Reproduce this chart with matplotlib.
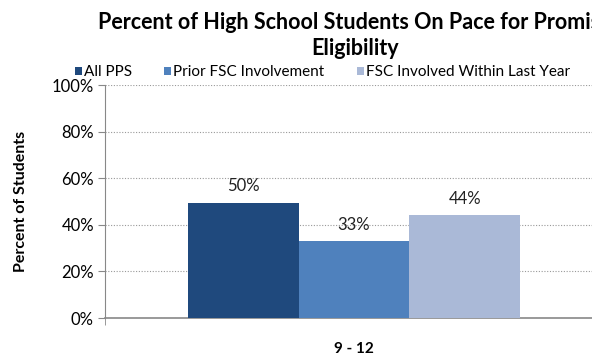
import matplotlib
matplotlib.use("Agg")
import matplotlib.pyplot as plt
from matplotlib.ticker import FixedLocator, PercentFormatter

# data
category = ["9 - 12"]
series = ["All PPS", "Prior FSC Involvement", "FSC Involved Within Last Year"]
values = [49.5, 33.0, 44.2]
value_labels = ["50%", "33%", "44%"]
colors = ["#1F497D", "#4F81BD", "#AAB9D7"]
yticks = [0, 20, 40, 60, 80, 100]

plt.rcParams["font.family"] = ["Lato", "DejaVu Sans"]

fig = plt.figure(figsize=(5.92, 3.56), dpi=100)
ax = fig.add_axes([0.1774, 0.1067, 0.8412, 0.6545])

width = 0.2225
offsets = [-width, 0, width]
for name, val, lab, col, off in zip(series, values, value_labels, colors, offsets):
    ax.bar(off, val, width=width, color=col, label=name, zorder=3)
    ax.annotate(lab, (off, val), xytext=(0, 6), textcoords="offset points",
                ha="center", va="bottom", fontsize=12, color="#222222")

ax.set_xlim(-0.5, 0.5)
ax.set_ylim(0, 100)
ax.yaxis.set_major_locator(FixedLocator(yticks))
ax.yaxis.set_major_formatter(PercentFormatter(decimals=0))
ax.grid(axis="y", linestyle=(0, (1, 1.5)), color="#999999", linewidth=0.8, zorder=0)

ax.set_xticks([0])
ax.set_xticklabels(category, fontweight="bold", fontsize=11)
ax.tick_params(axis="x", length=0, pad=17)
ax.set_xticks([-0.5, 0.5], minor=True)
ax.tick_params(axis="x", which="minor", length=5, color="#888888")
ax.tick_params(axis="y", length=5, color="#888888", labelsize=12, pad=3)

for s in ["top", "right"]:
    ax.spines[s].set_visible(False)
ax.spines["left"].set_color("#888888")
ax.spines["bottom"].set_color("#888888")
ax.spines["bottom"].set_linewidth(1.2)

ax.set_ylabel("Percent of Students", fontweight="bold", fontsize=11.5, labelpad=17)

fig.text(0.60, 0.90, "Percent of High School Students On Pace for Promise\nEligibility",
         ha="center", va="center", fontsize=15.5, fontweight="bold", linespacing=1.3)

ax.legend(loc="lower left", bbox_to_anchor=(-0.061, 1.025), ncol=3, frameon=False,
          fontsize=11, handlelength=0.46, handleheight=0.46, handletextpad=0.15,
          columnspacing=2.1, borderaxespad=0, borderpad=0)

fig.savefig("out.png", dpi=100)
